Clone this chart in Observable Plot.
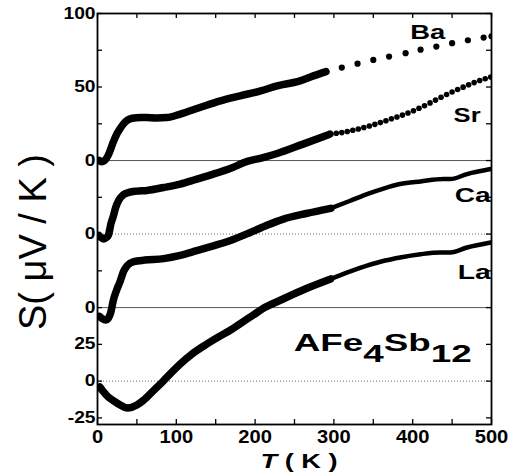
<!DOCTYPE html>
<html><head><meta charset="utf-8">
<script src="https://cdn.jsdelivr.net/npm/d3@7"></script>
<script src="https://cdn.jsdelivr.net/npm/@observablehq/plot@0.6"></script>
<style>body{margin:0;background:#fff}svg{display:block}</style>
</head><body><div id="chart"></div>
<script>
// ---- data (S in µV/K, T in K) ----
const seriesNames = ["Ba", "Sr", "Ca", "La"];
const seriesOffsets = [150, 100, 50, 0];
const solidZeroOffsets = [150, 50];
const dottedZeroOffsets = [100, 0];

const baDenseT = [2, 5, 9, 13, 16, 20, 25, 29, 33, 38, 44, 55, 63, 75, 88, 105, 130, 156, 181, 207, 228, 257, 274, 290];
const baDenseS = [0, -0.8, 0, 3, 6.7, 12.5, 18.5, 22, 25, 27.5, 28.8, 29.3, 29.2, 29, 29.2, 31.6, 36.1, 40.6, 44, 47.4, 50.8, 54.2, 57.6, 60.5];
const baDotT = [310, 330, 350, 370, 391, 410, 430, 450, 470, 490, 500];
const baDotS = [63.2, 65.9, 68.4, 70.7, 73, 75.4, 77.5, 79.8, 81.8, 83.6, 84.5];

const srDenseT = [2, 5, 8, 11, 14, 17, 20, 23, 27, 33, 40, 50, 63, 84, 105, 125, 147, 170, 190, 210, 228, 260, 295];
const srDenseS = [-1, -2.5, -3.3, -2.5, -0.5, 6.9, 12, 18, 23, 26.8, 28.4, 29.2, 29.7, 31.7, 34, 37.2, 40.8, 45, 49.4, 52, 54.8, 61, 68];
const srDotT = [303, 310, 317, 324, 331, 338, 345, 352, 359, 366, 373, 380, 387, 394, 401, 408, 415, 422, 429, 436, 443, 450, 457, 464, 471, 478, 485, 492, 499];
const srDotS = [68.6, 69.0, 69.8, 70.6, 71.5, 72.5, 73.5, 74.6, 75.8, 77.1, 78.4, 79.6, 80.9, 82.3, 83.9, 85.6, 87.3, 89.2, 91.1, 93.0, 94.9, 96.6, 98.3, 99.9, 101.5, 103.0, 104.4, 105.6, 106.8];

const caDenseT = [2.5, 6, 10, 14, 17, 20, 24, 29, 33, 38, 46, 60, 84, 105, 126, 147, 168, 194, 215, 236, 265, 296];
const caDenseS = [-6, -7.5, -8.4, -7, -3, 4.8, 11.5, 18.3, 24.5, 28.7, 31.3, 32.3, 33.3, 35.5, 38.7, 42, 45.5, 51.1, 56, 60.2, 64, 67.5];
const caThinT = [296, 320, 342, 362, 384, 410, 439, 448, 469, 499];
const caThinS = [67.5, 72.5, 77.2, 80.8, 84, 85.8, 87.4, 87.4, 90.8, 94.2];

const laDenseT = [3, 8, 14, 20, 28, 38, 50, 58, 70, 84, 95, 105, 120, 139, 155, 168, 185, 198, 212, 232, 265, 296];
const laDenseS = [-4, -7.5, -11, -13.2, -16, -18.3, -16.2, -13.2, -7, 0.4, 6.5, 11.7, 18.5, 25.3, 30.5, 34.4, 40.5, 45, 50, 55, 63, 69.5];
const laThinT = [296, 320, 342, 365, 384, 410, 435, 448, 469, 499];
const laThinS = [69.5, 74.5, 78.5, 82, 84.1, 86.3, 87.5, 87.5, 90.9, 94.3];

const yTickValues = [-25, 0, 25, 50, 75, 100, 125, 150, 175, 200, 225, 250];
const yTickLabels = ["-25", "0", "25", "0", "", "0", "", "0", "", "50", "", "100"];
const xTickValues = [0, 50, 100, 150, 200, 250, 300, 350, 400, 450, 500];
const xTickLabels = ["0", "", "100", "", "200", "", "300", "", "400", "", "500"];

const labelNames = ["Ba", "Sr", "Ca", "La"];
const labelT = [419, 469, 499, 499];
const labelY = [237.1, 180.3, 126.2, 73.5];
const labelAnchor = ["middle", "middle", "end", "end"];
const labelWidth = [35, 27, 36, 33];

const compound = "AFe4Sb12";
const xTitle = "T ( K )";
const yTitle = "S( μV / K )";

// ---- build tables ----
const off = name => seriesOffsets[seriesNames.indexOf(name)];
const rows = (name, T, S) => T.map((t, i) => ({series: name, T: t, y: S[i] + off(name)}));
const dense = [...rows("Ba", baDenseT, baDenseS), ...rows("Sr", srDenseT, srDenseS),
               ...rows("Ca", caDenseT, caDenseS), ...rows("La", laDenseT, laDenseS)];
const thin = [...rows("Ca", caThinT, caThinS), ...rows("La", laThinT, laThinS)];
const baDots = rows("Ba", baDotT, baDotS);
const srDots = rows("Sr", srDotT, srDotS);
const labels = labelNames.map((n, i) => ({name: n, T: labelT[i], y: labelY[i], anchor: labelAnchor[i]}));
const yLab = new Map(yTickValues.map((v, i) => [v, yTickLabels[i]]));
const xLab = new Map(xTickValues.map((v, i) => [v, xTickLabels[i]]));

// ---- layout ----
const W = 515, H = 476, mL = 97, mR = 24, mT = 13, mB = 52;
const xDom = [0, 500], yDom = [-29.5, 250];
const tk = 5;                                            // inward tick length (px)
const tkX = tk * (xDom[1] - xDom[0]) / (W - mL - mR);    // same, in x units
const tkY = tk * (yDom[1] - yDom[0]) / (H - mT - mB);    // same, in y units
const font = "'Liberation Sans', Arial, Helvetica, sans-serif";
const tickStyle = {stroke: "black", strokeWidth: 1.3};

const plot = Plot.plot({
  width: W, height: H,
  marginLeft: mL, marginRight: mR, marginTop: mT, marginBottom: mB,
  x: {domain: xDom},
  y: {domain: yDom},
  style: {fontFamily: font, color: "black", background: "white", overflow: "visible"},
  marks: [
    Plot.ruleY(solidZeroOffsets, {stroke: "#555", strokeWidth: 1}),
    Plot.ruleY(dottedZeroOffsets, {stroke: "#666", strokeWidth: 1, strokeDasharray: "1,2"}),
    Plot.line(dense, {x: "T", y: "y", z: "series", stroke: "black", strokeWidth: 7.5,
      strokeLinecap: "round", strokeLinejoin: "round", curve: "monotone-x", clip: true}),
    Plot.line(thin, {x: "T", y: "y", z: "series", stroke: "black", strokeWidth: 4.5,
      strokeLinecap: "round", strokeLinejoin: "round", curve: "monotone-x", clip: true}),
    Plot.dot(baDots, {x: "T", y: "y", r: 3.1, fill: "black", clip: true}),
    Plot.dot(srDots, {x: "T", y: "y", r: 2.8, fill: "black", clip: true}),
    Plot.frame({stroke: "black", strokeWidth: 1.8}),
    // inward ticks on all four sides
    Plot.ruleX(xTickValues, {y1: yDom[0], y2: yDom[0] + tkY, ...tickStyle}),
    Plot.ruleX(xTickValues, {y1: yDom[1] - tkY, y2: yDom[1], ...tickStyle}),
    Plot.ruleY(yTickValues, {x1: xDom[0], x2: xDom[0] + tkX, ...tickStyle}),
    Plot.ruleY(yTickValues, {x1: xDom[1] - tkX, x2: xDom[1], ...tickStyle}),
    // tick labels
    Plot.axisY({ticks: yTickValues, tickSize: 0, tickPadding: 2, tickFormat: d => yLab.get(d),
      fontSize: 16, fontWeight: "bold", label: null}),
    Plot.axisX({ticks: xTickValues, tickSize: 0, tickPadding: 6, tickFormat: d => xLab.get(d),
      fontSize: 17.5, fontWeight: "bold", label: null}),
    Plot.text(labels, {x: "T", y: "y", text: "name", textAnchor: "end", fontSize: 20, fontWeight: "bold",
      fill: "black", filter: d => d.anchor === "end"}),
    Plot.text(labels, {x: "T", y: "y", text: "name", textAnchor: "middle", fontSize: 20, fontWeight: "bold",
      fill: "black", filter: d => d.anchor === "middle"}),
    Plot.text([compound], {x: 249, y: 25.3, text: d => d, textAnchor: "start", fontSize: 23.5, fontWeight: "bold", fill: "black"}),
    Plot.text([xTitle], {frameAnchor: "bottom", dx: 4.5, dy: 36.7, text: d => d, textAnchor: "middle", lineAnchor: "middle",
      fontSize: 20, fontWeight: "bold", fill: "black"}),
    Plot.text([yTitle], {frameAnchor: "left", rotate: -90, text: d => d, textAnchor: "middle", lineAnchor: "middle",
      fontSize: 38, fill: "black"})
  ]
});
document.getElementById("chart").append(plot);

function stretch(el, len) {
  el.setAttribute("textLength", len);
  el.setAttribute("lengthAdjust", "spacingAndGlyphs");
}
const svg = d3.select(plot);
svg.selectAll("g[aria-label='y-axis tick label'] text").each(function () {
  const w = this.getComputedTextLength(); if (w > 0) stretch(this, w * 1.2);
});
svg.selectAll("g[aria-label='x-axis tick label'] text").each(function () {
  const w = this.getComputedTextLength(); if (w > 0) stretch(this, w * 1.15);
});
const svgBox = plot.getBoundingClientRect();
svg.selectAll("text").each(function () {
  const t = this.textContent;
  const li = labelNames.indexOf(t);
  if (li >= 0 && this.closest("g[aria-label='text']")) stretch(this, labelWidth[li]);
  if (t === compound) {
    const el = d3.select(this); el.text("");
    el.append("tspan").text("AFe");
    el.append("tspan").attr("dy", "0.43em").text("4");
    el.append("tspan").attr("dy", "-0.43em").text("Sb");
    el.append("tspan").attr("dy", "0.43em").text("12");
    stretch(this, 178);
  }
  if (t === xTitle) {
    const el = d3.select(this); el.text("");
    el.append("tspan").attr("font-style", "italic").text("T");
    el.append("tspan").text(" ( K )");
    stretch(this, 77);
  }
  if (t === yTitle) {
    // centre the rotated title at its place left of the axis, a little below the frame's middle
    this.setAttribute("text-anchor", "middle");
    const r = this.getBoundingClientRect();
    const cx = r.left + r.width / 2 - svgBox.left, cy = r.top + r.height / 2 - svgBox.top;
    const wantX = mL - 64, wantY = mT + (H - mT - mB) / 2 + 23.5;
    this.setAttribute("transform", `translate(${wantX - cx},${wantY - cy}) ` + (this.getAttribute("transform") || ""));
  }
});
</script>
</body></html>
